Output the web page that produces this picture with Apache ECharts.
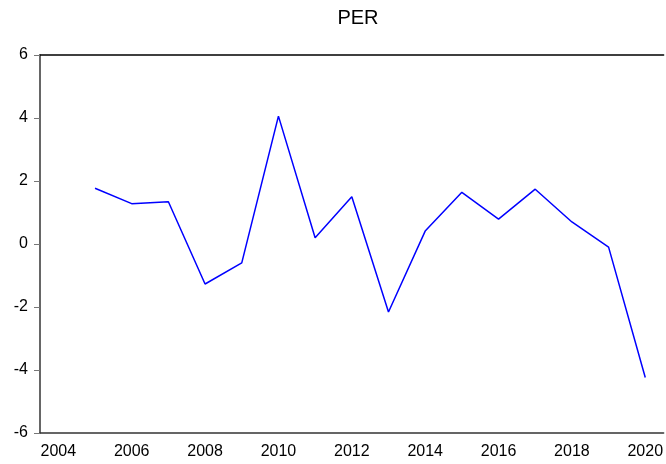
<!DOCTYPE html>
<html>
<head>
	<meta charset="UTF-8">
	<title>PER</title>
	<script src="https://cdn.jsdelivr.net/npm/echarts@6/dist/echarts.min.js"></script>
	<style>
		html, body { margin: 0; padding: 0; background: #fff; }
		#chart { width: 666px; height: 464px; }
	</style>
</head>
<body>
	<div id="chart"></div>
	<script type="text/javascript">
		// 年份（2004 无数据）
		var years = ['2004','2005','2006','2007','2008','2009','2010','2011','2012',
			'2013','2014','2015','2016','2017','2018','2019','2020'];
		var perValues = [null, 1.77, 1.28, 1.34, -1.27, -0.60, 4.06, 0.20, 1.50,
			-2.16, 0.41, 1.64, 0.79, 1.74, 0.70, -0.10, -4.24];
		var yTicks = [-6, -4, -2, 0, 2, 4, 6];

		var myChart = echarts.init(document.getElementById('chart'));
		myChart.setOption({
			animation: false,
			title: {
				text: 'PER',
				left: 353,
				top: 3,
				textAlign: 'center',
				textStyle: { fontFamily: 'Liberation Sans', fontSize: 20, fontWeight: 'normal', color: '#000' }
			},
			grid: { left: 40, right: 0, top: 55, bottom: 31 },
			xAxis: [{
				type: 'category',
				data: years,
				boundaryGap: true,
				axisLine: { onZero: false, lineStyle: { color: '#333', width: 1.5 } },
				axisTick: { inside: true, interval: 0, length: 6, lineStyle: { color: '#555' } },
				axisLabel: { interval: 1, color: '#000', fontFamily: 'Liberation Sans', fontSize: 16, margin: 11 },
				splitLine: { show: false }
			}, {
				type: 'category',
				data: years,
				position: 'top',
				axisLine: { onZero: false, lineStyle: { color: '#000', width: 1.5 } },
				axisTick: { show: false },
				axisLabel: { show: false }
			}],
			yAxis: {
				type: 'value',
				min: yTicks[0],
				max: yTicks[yTicks.length - 1],
				interval: 2,
				axisLine: { show: true, lineStyle: { color: '#333', width: 1.5 } },
				axisTick: { show: true, length: 6, lineStyle: { color: '#777' } },
				axisLabel: { color: '#000', fontFamily: 'Liberation Sans', fontSize: 16, margin: 12 },
				splitLine: { show: false }
			},
			series: [{
				name: 'PER',
				type: 'line',
				data: perValues,
				symbol: 'none',
				connectNulls: false,
				lineStyle: { color: '#0000ff', width: 1.5 }
			}]
		});
	</script>
</body>
</html>
